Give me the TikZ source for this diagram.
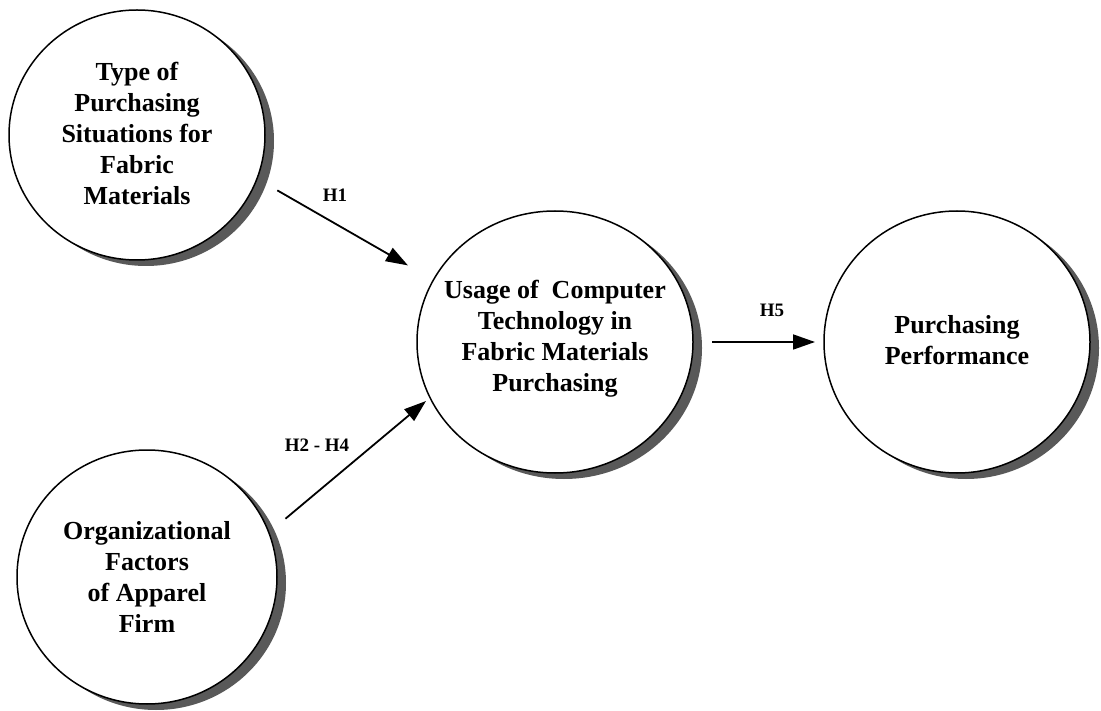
\documentclass[tikz,border=0pt]{standalone}
\usepackage{fontspec}
\setmainfont{Liberation Serif}
\usetikzlibrary{shapes.geometric,arrows.meta,shadows}
\begin{document}
\begin{tikzpicture}[x=1pt,y=-1pt,
  bub/.style={ellipse, draw, line width=1.5pt, fill=white, inner sep=0pt, outer sep=0pt,
    drop shadow={shadow xshift=9pt, shadow yshift=-6pt, fill=black!65, opacity=1}},
  btxt/.style={align=center, inner sep=0pt, font=\bfseries\fontsize{26}{31}\selectfont},
  arr/.style={line width=1.8pt, -{Triangle[length=22pt,width=15pt]}},
  hlab/.style={font=\bfseries\fontsize{19}{22}\selectfont}]
\useasboundingbox (0,0) rectangle (1101,711);
\fill[white] (0,0) rectangle (1101,711);
\node[bub, minimum width=256pt, minimum height=250pt] (c1) at (137,135) {};
\node[bub, minimum width=260pt, minimum height=254pt] (c2) at (147,577) {};
\node[bub, minimum width=276pt, minimum height=262pt] (c3) at (555,342) {};
\node[bub, minimum width=266pt, minimum height=262pt] (c4) at (957,342) {};
\node[btxt] (t1) at ([yshift=2pt]c1.center)
  {Type of\\Purchasing\\Situations for\\Fabric\\Materials};
\node[btxt] (t2) at (c2.center)
  {Organizational\\Factors\\of Apparel\\Firm};
\node[btxt] (t3) at ([yshift=3pt]c3.center)
  {Usage of\hspace{0.5em}Computer\\Technology in\\Fabric Materials\\Purchasing};
\node[btxt] (t4) at ([yshift=2pt]c4.center)
  {Purchasing\\Performance};
\draw[arr, shorten <=23.5pt, shorten >=29.4pt] (c1.-20.8) -- (c3.153.8);
\draw[arr, shorten <=21.7pt, shorten >=5.3pt] (c2.20.96) -- (c3.204.9);
\draw[arr, shorten <=19pt, shorten >=9pt] (c3.0) -- (c4.180);
\node[hlab] (h1) at (335,195) {H1};
\node[hlab] (h24) at (317,445) {H2 - H4};
\node[hlab] (h5) at (772,310) {H5};
\end{tikzpicture}
\end{document}
